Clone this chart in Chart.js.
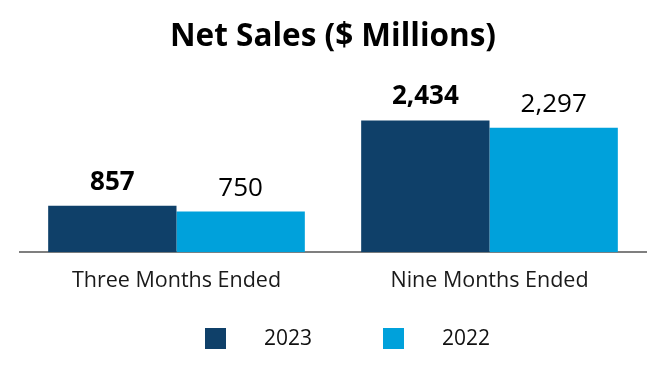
<!DOCTYPE html>
<html>
<head>
<meta charset="utf-8">
<script src="https://cdn.jsdelivr.net/npm/chart.js@4.4.1/dist/chart.umd.min.js"></script>
<style>
html,body{margin:0;padding:0;background:#fff;}
#wrap{width:666px;height:380px;position:relative;}
</style>
</head>
<body>
<div id="wrap"><canvas id="c" width="666" height="380"></canvas></div>
<script>
const categories = ["Three Months Ended", "Nine Months Ended"];
const seriesNames = ["2023", "2022"];
const values2023 = [857, 2434];
const values2022 = [750, 2297];
const valueLabels2023 = ["857", "2,434"];
const valueLabels2022 = ["750", "2,297"];
const colors = ["#0F4069", "#00A1DB"];

const FONT = "'Open Sans', sans-serif";

const valueLabelPlugin = {
  id: 'valueLabels',
  afterDatasetsDraw(chart) {
    const ctx = chart.ctx;
    const labelSets = [valueLabels2023, valueLabels2022];
    chart.data.datasets.forEach((ds, di) => {
      const meta = chart.getDatasetMeta(di);
      meta.data.forEach((bar, i) => {
        ctx.save();
        ctx.font = (di === 0 ? 'bold ' : '') + '26px ' + FONT;
        ctx.fillStyle = '#000';
        ctx.textAlign = 'center';
        ctx.textBaseline = 'alphabetic';
        ctx.fillText(labelSets[di][i], bar.x, bar.y - 16);
        ctx.restore();
      });
    });
  }
};

const legendPlugin = {
  id: 'customLegend',
  afterDraw(chart) {
    const ctx = chart.ctx;
    const xs = [205, 383];
    const top = 328, size = 21;
    chart.data.datasets.forEach((ds, di) => {
      ctx.save();
      ctx.fillStyle = ds.backgroundColor;
      ctx.fillRect(xs[di], top, size, size);
      ctx.font = '21px ' + FONT;
      ctx.fillStyle = '#111';
      ctx.textAlign = 'left';
      ctx.textBaseline = 'middle';
      ctx.fillText(ds.label, xs[di] + 59, top + size / 2 + 1);
      ctx.restore();
    });
  }
};

new Chart(document.getElementById('c'), {
  type: 'bar',
  data: {
    labels: categories,
    datasets: [
      { label: seriesNames[0], data: values2023, backgroundColor: colors[0] },
      { label: seriesNames[1], data: values2022, backgroundColor: colors[1] }
    ]
  },
  options: {
    responsive: false,
    animation: false,
    devicePixelRatio: 1,
    layout: { padding: { left: 20, right: 20, top: 0, bottom: 70 } },
    datasets: { bar: { categoryPercentage: 0.82, barPercentage: 1.0, borderWidth: 0 } },
    plugins: {
      legend: { display: false },
      tooltip: { enabled: false },
      title: {
        display: true,
        text: 'Net Sales ($ Millions)',
        color: '#000',
        font: { family: FONT, size: 31.5, weight: 'bold' },
        padding: { top: 18, bottom: 34 }
      }
    },
    scales: {
      x: {
        grid: { display: false, drawTicks: false },
        border: { display: true, color: '#7f7f7f', width: 2 },
        ticks: { color: '#1a1a1a', font: { family: FONT, size: 21.5 }, padding: 16 }
      },
      y: {
        display: false,
        min: 0,
        max: 3000
      }
    }
  },
  plugins: [valueLabelPlugin, legendPlugin]
});
</script>
</body>
</html>
